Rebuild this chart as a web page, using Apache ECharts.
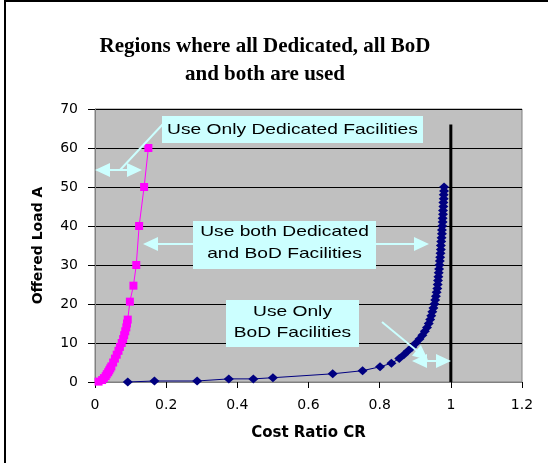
<!DOCTYPE html>
<html>
<head>
<meta charset="utf-8">
<script src="https://cdn.jsdelivr.net/npm/echarts@6/dist/echarts.min.js"></script>
<style>
html,body{margin:0;padding:0;background:#fff;}
#chart{width:548px;height:463px;}
</style>
</head>
<body>
<div id="chart"></div>
<script>
// ---- Data ----
const titleLines = ["Regions where all Dedicated, all BoD", "and both are used"];
const xAxisName = "Cost Ratio CR";
const yAxisName = "Offered Load A";

// Dedicated boundary (pink squares): cost ratio vs offered load
const dedicatedCR   = [0.010, 0.020, 0.025, 0.030, 0.033, 0.037, 0.040, 0.043, 0.046, 0.051, 0.056, 0.061, 0.066, 0.070, 0.075, 0.079, 0.082, 0.085, 0.088, 0.090, 0.092, 0.098, 0.108, 0.116, 0.124, 0.138, 0.150];
const dedicatedLoad = [0.1,   0.5,   1,     1.5,   2,     2.5,   3,     3.5,   4,     5,     6,     7,     8,     9,     10,    11,    12,    13,    14,    15,    16,    20.6,  24.7,  30,    40,    50,    60];

// BoD boundary (navy diamonds)
const bodCR   = [0.092, 0.167, 0.287, 0.376, 0.445, 0.500, 0.668, 0.752, 0.801, 0.833, 0.855, 0.868, 0.880, 0.892, 0.902, 0.912, 0.920, 0.927, 0.933, 0.938, 0.942, 0.945, 0.948, 0.951, 0.954, 0.956, 0.958, 0.960, 0.962, 0.963, 0.964, 0.965, 0.966, 0.967, 0.968, 0.969, 0.970, 0.971, 0.972, 0.972, 0.973, 0.974, 0.975, 0.975, 0.976, 0.977, 0.977, 0.978, 0.978, 0.979, 0.979, 0.980, 0.980, 0.981, 0.981];
const bodLoad = [0.0,   0.26,  0.26,  0.8,   0.8,   1.1,   2.1,   2.9,   3.9,   4.8,   6,     7,     8,     9,     10,    11,    12,    13,    14,    15,    16,    17,    18,    19,    20,    21,    22,    23,    24,    25,    26,    27,    28,    29,    30,    31,    32,    33,    34,    35,    36,    37,    38,    39,    40,    41,    42,    43,    44,    45,    46,    47,    48,    49,    50];

// CR = 1 limit line
const limitCR   = [1, 1];
const limitLoad = [0, 66];

const annotations = {
  dedicatedOnly: ["Use Only Dedicated Facilities"],
  both: ["Use both Dedicated", "and BoD Facilities"],
  bodOnly: ["Use Only", "BoD Facilities"]
};

// ---- helpers ----
const zip = (xs, ys) => xs.map((x, i) => [x, ys[i]]);
const CYAN = '#CCFFFF';

function headPts(tx, ty, fx, fy) {
  const dx = tx - fx, dy = ty - fy, l = Math.hypot(dx, dy);
  const ux = dx / l, uy = dy / l, L = 15, W = 7;
  const bx = tx - ux * L, by = ty - uy * L, px = -uy, py = ux;
  return [[tx, ty], [bx + px * W, by + py * W], [bx - px * W, by - py * W]];
}
function seg(x1, y1, x2, y2) {
  return { type: 'line', z: 100, shape: { x1, y1, x2, y2 }, style: { stroke: CYAN, lineWidth: 2 } };
}
function head(tx, ty, fx, fy) {
  return { type: 'polygon', z: 100, shape: { points: headPts(tx, ty, fx, fy) }, style: { fill: CYAN } };
}
function box(x, y, w, h) {
  return { type: 'rect', z: 100, shape: { x, y, width: w, height: h }, style: { fill: CYAN } };
}
function label(text, cx, cy) {
  return { type: 'text', z: 101, x: cx, y: cy, scaleX: 1.28,
    style: { text, x: 0, y: 0, fill: '#000', align: 'center', verticalAlign: 'middle',
      font: '15px "Liberation Sans", Arial, sans-serif' } };
}

const graphics = [
  // outer frame (only left/top visible)
  { type: 'rect', z: 0, shape: { x: 5, y: 1, width: 800, height: 800 }, style: { fill: null, stroke: '#000', lineWidth: 2 } },

  // Use Only Dedicated Facilities
  box(162, 116, 261, 27),
  label(annotations.dedicatedOnly[0], 292.5, 129.5),
  seg(163, 124, 120, 170),
  seg(97, 170, 140, 170),
  head(95, 170, 120, 170),
  head(142, 170, 120, 170),

  // Use both
  box(193, 221, 183, 48),
  label(annotations.both[0], 284.5, 232),
  label(annotations.both[1], 284.5, 253.5),
  seg(193, 244, 150, 244),
  head(143, 244, 193, 244),
  seg(376, 244, 422, 244),
  head(429, 244, 376, 244),

  // Use only BoD
  box(226, 300, 133, 47),
  label(annotations.bodOnly[0], 292.5, 312),
  label(annotations.bodOnly[1], 292.5, 333),
  seg(382, 322, 422, 355),
  head(428, 360, 382, 322),
  seg(418, 361, 445, 361),
  head(412, 361, 430, 361),
  head(451, 361, 430, 361)
];

const chart = echarts.init(document.getElementById('chart'), null, { renderer: 'canvas' });
chart.setOption({
  animation: false,
  backgroundColor: '#fff',
  title: {
    text: titleLines.join('\n'),
    left: 260, top: 28, textAlign: 'center',
    textStyle: { fontFamily: '"Liberation Serif", "Times New Roman", serif', fontWeight: 'bold', fontSize: 21, lineHeight: 28, color: '#000' }
  },
  grid: { left: 95, right: 26, top: 109, bottom: 81, show: true, backgroundColor: '#C0C0C0', borderColor: '#808080', borderWidth: 1, containLabel: false },
  xAxis: {
    type: 'value', min: 0, max: 1.2, interval: 0.2,
    name: xAxisName, nameLocation: 'middle', nameGap: 44,
    nameTextStyle: { fontFamily: '"DejaVu Sans", sans-serif', fontWeight: 'bold', fontSize: 15, color: '#000' },
    axisLine: { onZero: false, lineStyle: { color: '#808080', width: 1 } },
    axisTick: { show: true, length: 6, lineStyle: { color: '#000' } },
    axisLabel: { margin: 16, fontFamily: '"DejaVu Sans", sans-serif', fontSize: 14, color: '#000' },
    splitLine: { show: false }
  },
  yAxis: {
    type: 'value', min: 0, max: 70, interval: 10,
    name: yAxisName, nameLocation: 'middle', nameGap: 50, nameRotate: 90,
    nameTextStyle: { fontFamily: '"DejaVu Sans", sans-serif', fontWeight: 'bold', fontSize: 14, color: '#000' },
    axisLine: { show: true, lineStyle: { color: '#808080', width: 1 } },
    axisTick: { show: true, length: 7, lineStyle: { color: '#000' } },
    axisLabel: { margin: 17, fontFamily: '"DejaVu Sans", sans-serif', fontSize: 14, color: '#000' },
    splitLine: { show: true, lineStyle: { color: '#000', width: 1 } }
  },
  series: [
    {
      name: 'BoD', type: 'line', data: zip(bodCR, bodLoad),
      symbol: 'diamond', symbolSize: [10, 9], showAllSymbol: true,
      lineStyle: { color: '#000080', width: 1 }, itemStyle: { color: '#000080' }, z: 3
    },
    {
      name: 'Dedicated', type: 'line', data: zip(dedicatedCR, dedicatedLoad),
      symbol: 'rect', symbolSize: 8, showAllSymbol: true,
      lineStyle: { color: '#FF00FF', width: 1 }, itemStyle: { color: '#FF00FF' }, z: 4
    },
    {
      name: 'CR = 1', type: 'line', data: zip(limitCR, limitLoad),
      symbol: 'none', lineStyle: { color: '#000', width: 3 }, z: 5
    }
  ],
  graphic: graphics
});
</script>
</body>
</html>
